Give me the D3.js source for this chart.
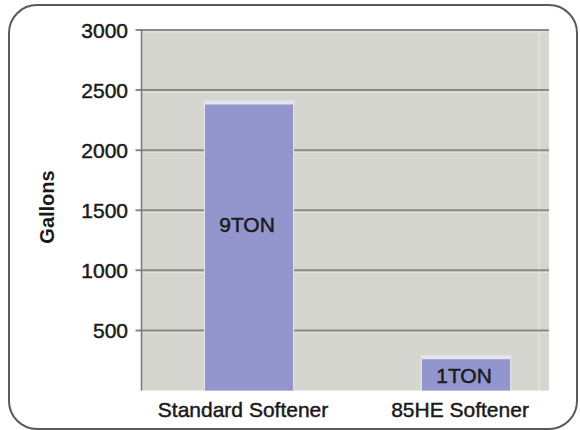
<!DOCTYPE html>
<html>
<head>
<meta charset="utf-8">
<script src="https://cdn.jsdelivr.net/npm/d3@7"></script>
<style>
  html, body { margin: 0; padding: 0; background: #fff; }
  svg { display: block; font-family: "Liberation Sans", Arial, Helvetica, sans-serif; }
  .txt { fill: #1a1a1a; stroke: #1a1a1a; stroke-width: 0.45px; }
</style>
</head>
<body>
<svg id="chart" width="580" height="430"></svg>
<script>
// Water used for regeneration, per softener type
const categories = ["Standard Softener", "85HE Softener"];
const gallons = [2380, 260];
const barLabels = ["9TON", "1TON"];
const yTicks = [500, 1000, 1500, 2000, 2500, 3000];
const yMax = 3000;

const plot = { left: 141.5, right: 549, top: 30, bottom: 390.5 };

const svg = d3.select("#chart");

// rounded outer frame
svg.append("rect")
  .attr("x", 9).attr("y", 5)
  .attr("width", 568).attr("height", 424)
  .attr("rx", 28).attr("ry", 28)
  .attr("fill", "#fff")
  .attr("stroke", "#5a5a5a")
  .attr("stroke-width", 2);

const y = d3.scaleLinear().domain([0, yMax]).range([plot.bottom, plot.top]);

// bars sit in bands slightly right of centre
const x = d3.scaleBand()
  .domain(categories)
  .range([plot.left, plot.right])
  .paddingInner(0.594)
  .paddingOuter(0.236)
  .align(0.62);

// plot background
svg.append("rect")
  .attr("x", plot.left).attr("y", plot.top)
  .attr("width", plot.right - plot.left)
  .attr("height", plot.bottom - plot.top)
  .attr("fill", "#d5d6d0");

// faint light edge near the right side
svg.append("line")
  .attr("x1", plot.right - 10).attr("x2", plot.right - 10)
  .attr("y1", plot.top).attr("y2", plot.bottom)
  .attr("stroke", "#e0e0dc").attr("stroke-width", 2);

// gridlines with a light highlight underneath
const grid = svg.append("g");
grid.selectAll("line.hi")
  .data(yTicks)
  .join("line")
  .attr("class", "hi")
  .attr("x1", plot.left).attr("x2", plot.right)
  .attr("y1", d => y(d) + 2).attr("y2", d => y(d) + 2)
  .attr("stroke", "#e6e6e2").attr("stroke-width", 1);
grid.selectAll("line.main")
  .data(yTicks)
  .join("line")
  .attr("class", "main")
  .attr("x1", plot.left - 6).attr("x2", plot.right)
  .attr("y1", d => y(d)).attr("y2", d => y(d))
  .attr("stroke", "#8a8a88").attr("stroke-width", 2);

// bars with a pale rim
const bars = svg.append("g");
bars.selectAll("rect.cap")
  .data(gallons)
  .join("rect")
  .attr("class", "cap")
  .attr("x", (d, i) => x(categories[i]) - 1)
  .attr("y", d => y(d) - 4)
  .attr("width", x.bandwidth() + 2)
  .attr("height", d => plot.bottom - y(d) + 4)
  .attr("fill", "#e4e4ee");
bars.selectAll("rect.bar")
  .data(gallons)
  .join("rect")
  .attr("class", "bar")
  .attr("x", (d, i) => x(categories[i]))
  .attr("y", d => y(d))
  .attr("width", x.bandwidth())
  .attr("height", d => plot.bottom - y(d))
  .attr("fill", "#9396cc");

// labels inside the bars
bars.selectAll("text")
  .data(barLabels)
  .join("text")
  .attr("class", "txt")
  .attr("x", (d, i) => x(categories[i]) + x.bandwidth() / 2 - 2)
  .attr("y", (d, i) => y(gallons[i]) + (i === 0 ? 127 : 24))
  .attr("text-anchor", "middle")
  .attr("font-size", 21)
  .text(d => d);

// y axis line
svg.append("line")
  .attr("x1", plot.left).attr("x2", plot.left)
  .attr("y1", plot.top).attr("y2", plot.bottom)
  .attr("stroke", "#777").attr("stroke-width", 1.5);

// y tick labels
svg.append("g").selectAll("text")
  .data(yTicks)
  .join("text")
  .attr("class", "txt")
  .attr("x", 128)
  .attr("y", d => y(d))
  .attr("dy", "0.36em")
  .attr("text-anchor", "end")
  .attr("font-size", 21)
  .text(d => d);

// category labels
svg.append("g").selectAll("text")
  .data(categories)
  .join("text")
  .attr("class", "txt")
  .attr("x", d => x(d) + x.bandwidth() / 2 - 6)
  .attr("y", 417)
  .attr("text-anchor", "middle")
  .attr("font-size", 21)
  .text(d => d);

// axis title
svg.append("text")
  .attr("transform", "translate(54,207) rotate(-90)")
  .attr("text-anchor", "middle")
  .attr("font-size", 20)
  .attr("font-weight", "bold")
  .attr("fill", "#1a1a1a")
  .text("Gallons");
</script>
</body>
</html>
